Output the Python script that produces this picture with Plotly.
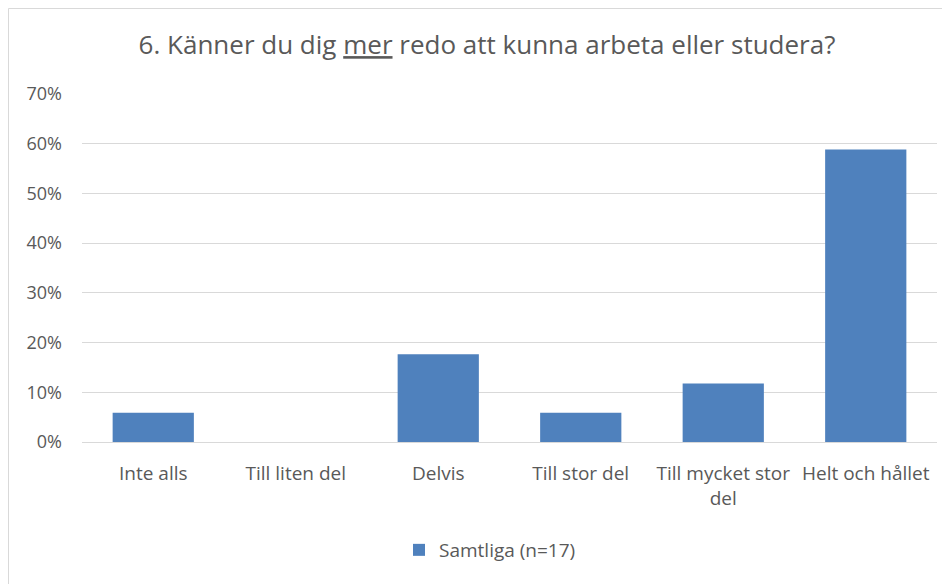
import plotly.graph_objects as go

categories = ["Inte alls", "Till liten del", "Delvis", "Till stor del", "Till mycket stor<br>del", "Helt och hållet"]
values = [1/17, 0.0, 3/17, 1/17, 2/17, 10/17]
series_name = "Samtliga (n=17)"
tick_vals = [0, 0.1, 0.2, 0.3, 0.4, 0.5, 0.6, 0.7]
tick_text = ["0%", "10%", "20%", "30%", "40%", "50%", "60%", "70%"]

# page body has an 8px margin: work in screen coords, convert
OFF = 8
W, H = 950 - OFF, 584 - OFF
L, R, T, B = 82 - OFF, 13, 94 - OFF, 584 - 442
pw, ph = W - L - R, H - T - B

def px(x):
    return (x - OFF - L) / pw

def py(y):
    return (H - B - (y - OFF)) / ph

FONT = "Open Sans"
GREY = "#595959"

fig = go.Figure()
fig.add_trace(go.Bar(
    x=categories, y=values, name=series_name,
    marker=dict(color="#4f81bd", line=dict(width=0)),
    width=0.57,
))

fig.update_layout(
    width=W, height=H,
    margin=dict(l=L, r=R, t=T, b=B),
    paper_bgcolor="white", plot_bgcolor="white",
    font=dict(family=FONT, color=GREY, size=18),
    title=dict(text="6. Känner du dig <u>mer</u> redo att kunna arbeta eller studera?",
               x=px(487), xref="paper", xanchor="center",
               y=1 - (45 - OFF) / H, yref="container", yanchor="middle",
               font=dict(family=FONT, size=26, color=GREY)),
    showlegend=True,
    legend=dict(orientation="h", x=px(490), xanchor="center", xref="paper",
                y=py(550), yanchor="middle", yref="paper",
                font=dict(family=FONT, size=19, color=GREY)),
    xaxis=dict(showgrid=False, showline=True, linecolor="#d9d9d9", linewidth=1,
               ticks="", ticklabelstandoff=14,
               tickfont=dict(family=FONT, size=19, color=GREY)),
    yaxis=dict(range=[0, 0.7], tickvals=tick_vals, ticktext=tick_text,
               showgrid=True, gridcolor="#d9d9d9", gridwidth=1,
               zeroline=False, showline=False, ticks="",
               ticklabelstandoff=19,
               tickfont=dict(family=FONT, size=18, color=GREY)),
    shapes=[dict(type="rect", xref="paper", yref="paper",
                 x0=px(8.5), x1=px(947.5), y0=py(600), y1=py(8.5),
                 line=dict(color="#d9d9d9", width=1), fillcolor="rgba(0,0,0,0)",
                 layer="below")],
)

fig.write_html("out.html")
